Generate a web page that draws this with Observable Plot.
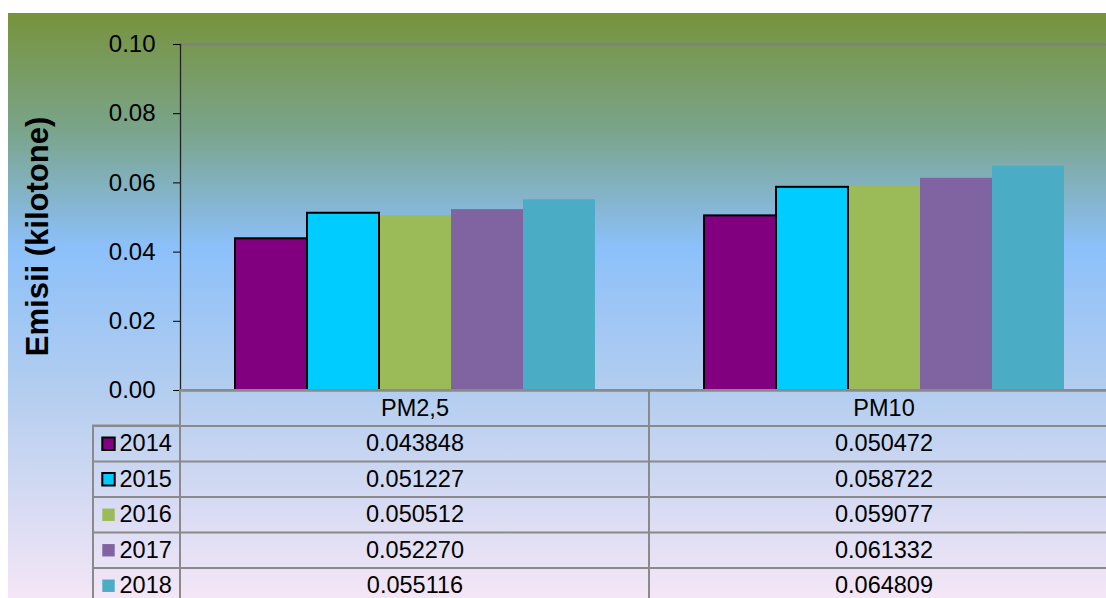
<!DOCTYPE html>
<html><head><meta charset="utf-8">
<script src="https://cdn.jsdelivr.net/npm/d3@7"></script>
<script src="https://cdn.jsdelivr.net/npm/@observablehq/plot@0.6"></script>
<style>
html,body{margin:0;padding:0;background:#fff;overflow:hidden;width:1106px;height:598px;}
#bg{position:absolute;left:8px;top:13px;width:1098px;height:585px;
  background:linear-gradient(to bottom,#77933c 0%,#7aa48a 20%,#8cc0fa 40%,#b2cdef 64%,#f4e6f6 100%);}
#chart{position:absolute;left:0;top:0;width:1106px;height:598px;}
</style></head><body><div id="bg"></div><div id="chart"></div>
<script>
const categories = ["PM2,5", "PM10"];
const years = ["2014", "2015", "2016", "2017", "2018"];
const valuesPM25 = [0.043848, 0.051227, 0.050512, 0.052270, 0.055116];
const valuesPM10 = [0.050472, 0.058722, 0.059077, 0.061332, 0.064809];
const yTicks = [0, 0.02, 0.04, 0.06, 0.08, 0.10];
const yLabel = "Emisii (kilotone)";
const colors = ["#800080", "#00ccff", "#9bbb59", "#8064a2", "#4bacc6"];
const outlinedYears = ["2014", "2015"];

const series = [valuesPM25, valuesPM10];
const data = categories.flatMap((c, i) => years.map((y, j) => ({category: c, year: y, value: series[i][j]})));

const W = 1106, H = 598;
const marginLeft = 180, marginTop = 44, marginBottom = 208, marginRight = -12;
const rowH = 35.5;
const legendW = 87;
const colW = (W - marginRight - marginLeft) / categories.length;
const font = "'Liberation Sans', Arial, sans-serif";
const gridGray = "#8a8a8a";
const tableFont = 23.5;
const first = () => categories[0];

const marks = [
  Plot.ruleY([0.1], {stroke: "#808080", strokeWidth: 2.5}),
  Plot.frame({anchor: "left", facetAnchor: "left", stroke: "#222", strokeWidth: 1.3}),
  Plot.axisY(yTicks, {tickFormat: d => d.toFixed(2), tickSize: 7, tickPadding: 18, fontSize: 24, label: null, stroke: "#000", color: "#000"}),
  Plot.text([yLabel], {fx: first, frameAnchor: "left", textAnchor: "middle", rotate: -90, dx: -142, dy: 19, fontSize: 31, fontWeight: "bold", fill: "#000"}),
  Plot.barY(data, {fx: "category", x: "year", y: "value", fill: "year"}),
  Plot.barY(data.filter(d => outlinedYears.includes(d.year)), {fx: "category", x: "year", y: "value", fill: "year", stroke: "#000", strokeWidth: 2}),
  // table
  Plot.rect(categories, {fx: d => d, y1: 0, y2: 0, insetBottom: -214, fill: "none", stroke: gridGray, strokeWidth: 2}),
  Plot.rect([categories[0]], {fx: d => d, y1: 0, y2: 0, insetTop: rowH, insetBottom: -214, insetLeft: -legendW, insetRight: colW, fill: "none", stroke: gridGray, strokeWidth: 2}),
  Plot.ruleY([0], {stroke: "#8a8a8a", strokeWidth: 2.5}),
  Plot.text(categories, {fx: d => d, text: d => d, frameAnchor: "bottom", dy: rowH * 0.5, lineAnchor: "middle", fontSize: tableFont, fill: "#000"})
];
years.forEach((yr, j) => {
  const dy = rowH * (j + 1);
  marks.push(Plot.ruleY([0], {dy, stroke: gridGray, strokeWidth: 2}));
  marks.push(Plot.ruleY([0], {fx: first, dy, insetLeft: -legendW, insetRight: colW, stroke: gridGray, strokeWidth: 2}));
  marks.push(Plot.text(data.filter(d => d.year === yr), {fx: "category", text: d => d.value.toFixed(6), frameAnchor: "bottom", dy: dy + rowH * 0.5, lineAnchor: "middle", fontSize: tableFont, fill: "#000"}));
  marks.push(Plot.text([yr], {fx: first, text: d => d, frameAnchor: "bottom-left", textAnchor: "start", dx: -61, dy: dy + rowH * 0.5, lineAnchor: "middle", fontSize: tableFont, fill: "#000"}));
  marks.push(Plot.dot([yr], {fx: first, frameAnchor: "bottom-left", dx: -72, dy: dy + rowH * 0.5, symbol: "square", r: 7,
    fill: colors[j], stroke: outlinedYears.includes(yr) ? "#000" : "none", strokeWidth: 2}));
});

const chart = Plot.plot({
  width: W, height: H,
  marginLeft, marginTop, marginBottom, marginRight,
  style: {background: "transparent", fontFamily: font, overflow: "hidden"},
  fx: {domain: categories, padding: 0, axis: null, label: null},
  x: {domain: years, paddingInner: 0, paddingOuter: 0.74, axis: null},
  y: {domain: [0, 0.1], axis: null},
  color: {domain: years, range: colors},
  marks
});
document.getElementById("chart").appendChild(chart);
</script>
</body></html>
